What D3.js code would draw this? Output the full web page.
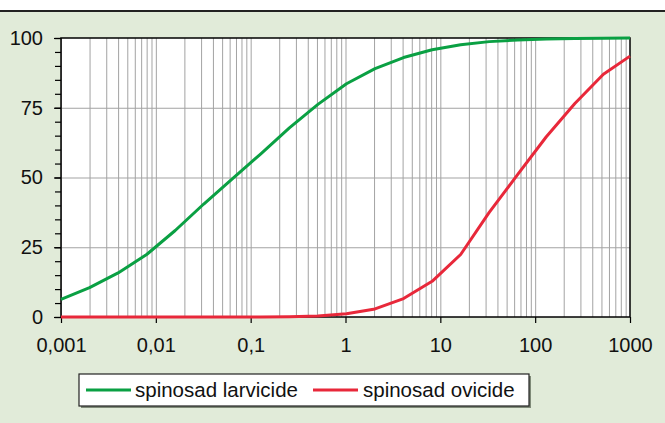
<!DOCTYPE html>
<html>
<head>
<meta charset="utf-8">
<script src="https://cdn.jsdelivr.net/npm/d3@7"></script>
<style>
  body { margin: 0; background: #fff; }
  svg { display: block; font-family: "Liberation Sans", Arial, sans-serif; }
  .tick text { font-size: 20px; fill: #111; }
  .grid line { stroke: #a3a3a3; stroke-width: 1; }
  .grid path { display: none; }
  .legend-text { font-size: 20.5px; fill: #111; }
</style>
</head>
<body>
<div class="viz"></div>
<script>
// concentrations (log axis), doubling from 0.001
var doses = [0.001, 0.002, 0.004, 0.008, 0.016, 0.032, 0.064, 0.128, 0.256, 0.512,
             1.024, 2.048, 4.096, 8.192, 16.384, 32.768, 65.536, 131.072, 262.144, 524.288, 1048.576];

// mortality %
var larvicide = [6.3, 10.5, 15.8, 22.4, 31, 40.5, 49.5, 58.5, 67.8, 76.2, 83.6,
                 89, 93, 95.8, 97.6, 98.7, 99.3, 99.6, 99.8, 99.9, 100];
var ovicide = [0, 0, 0, 0, 0, 0, 0, 0, 0.1, 0.4, 1.2,
               2.9, 6.6, 12.8, 22.4, 37.5, 51.1, 64.6, 76.5, 87, 93.5];

var seriesNames = ["spinosad larvicide", "spinosad ovicide"];
var seriesColors = ["#0aa043", "#e8283a"];

var xTicks = [0.001, 0.01, 0.1, 1, 10, 100, 1000];
var yTicks = [0, 25, 50, 75, 100];

// dimensions
var W = 665, H = 423;
var margin = { top: 38, right: 35, bottom: 106, left: 61 };
var width = W - margin.left - margin.right;
var height = H - margin.top - margin.bottom;

var svg = d3.select(".viz").append("svg")
  .attr("width", W)
  .attr("height", H);

// background + top rule
svg.append("rect").attr("x", 0).attr("y", 11).attr("width", W).attr("height", H - 11)
  .attr("fill", "#e1ebd9");
svg.append("line").attr("x1", 0).attr("x2", W).attr("y1", 11).attr("y2", 11)
  .attr("stroke", "#222").attr("stroke-width", 2);

var g = svg.append("g")
  .attr("transform", "translate(" + margin.left + "," + margin.top + ")");

var xScale = d3.scaleLog().domain([0.001, 1000]).range([0, width]);
var yScale = d3.scaleLinear().domain([0, 100]).range([height, 0]);

g.append("rect").attr("width", width).attr("height", height).attr("fill", "#fff");

// vertical grid at every log tick
var minorX = [];
for (var e = -3; e < 3; e++) {
  for (var k = 1; k < 10; k++) minorX.push(k * Math.pow(10, e));
}
g.append("g").attr("class", "grid")
  .attr("transform", "translate(0," + height + ")")
  .call(d3.axisBottom(xScale).tickValues(minorX).tickSize(-height).tickFormat(""));

// horizontal grid
g.append("g").attr("class", "grid")
  .call(d3.axisLeft(yScale).tickValues([25, 50, 75]).tickSize(-width).tickFormat(""));

// plot frame
g.append("rect").attr("width", width).attr("height", height)
  .attr("fill", "none").attr("stroke", "#000").attr("stroke-width", 1.5);

// y axis, minor then major
g.append("g")
  .call(d3.axisLeft(yScale).tickValues(d3.range(0, 101, 5)).tickSize(6).tickFormat(""))
  .call(a => a.select(".domain").remove())
  .call(a => a.selectAll("line").attr("stroke", "#000").attr("stroke-width", 1.2));
g.append("g")
  .call(d3.axisLeft(yScale).tickValues(yTicks).tickSize(7).tickPadding(11))
  .call(a => a.select(".domain").remove())
  .call(a => a.selectAll("line").attr("stroke", "#000").attr("stroke-width", 1.2));

// x axis
g.append("g")
  .attr("transform", "translate(0," + height + ")")
  .call(d3.axisBottom(xScale).tickValues(xTicks).tickSize(6).tickPadding(15)
    .tickFormat(d => String(d).replace(".", ",")))
  .call(a => a.select(".domain").remove())
  .call(a => a.selectAll("line").attr("stroke", "#000").attr("stroke-width", 1.2));

// lines
var line = d3.line()
  .x(d => xScale(Math.min(d[0], 1000)))
  .y(d => yScale(d[1]));

[larvicide, ovicide].forEach(function(vals, i) {
  var pts = doses.map((d, j) => [d, vals[j]]);
  g.append("path")
    .datum(pts)
    .attr("fill", "none")
    .attr("stroke", seriesColors[i])
    .attr("stroke-width", 3)
    .attr("stroke-linejoin", "round")
    .attr("d", line);
});

// legend
var legend = svg.append("g").attr("transform", "translate(79,374)");
legend.append("rect").attr("x", 2).attr("y", 2).attr("width", 450).attr("height", 32)
  .attr("fill", "#7f8a78");
legend.append("rect").attr("width", 450).attr("height", 32)
  .attr("fill", "#fff").attr("stroke", "#222").attr("stroke-width", 1.2);

var items = [{ x: 7, tx: 56 }, { x: 234, tx: 284 }];
items.forEach(function(it, i) {
  legend.append("line")
    .attr("x1", it.x).attr("x2", it.x + 45).attr("y1", 16).attr("y2", 16)
    .attr("stroke", seriesColors[i]).attr("stroke-width", 3);
  legend.append("text").attr("class", "legend-text")
    .attr("x", it.tx).attr("y", 16).attr("dy", "0.35em")
    .text(seriesNames[i]);
});
</script>
</body>
</html>
